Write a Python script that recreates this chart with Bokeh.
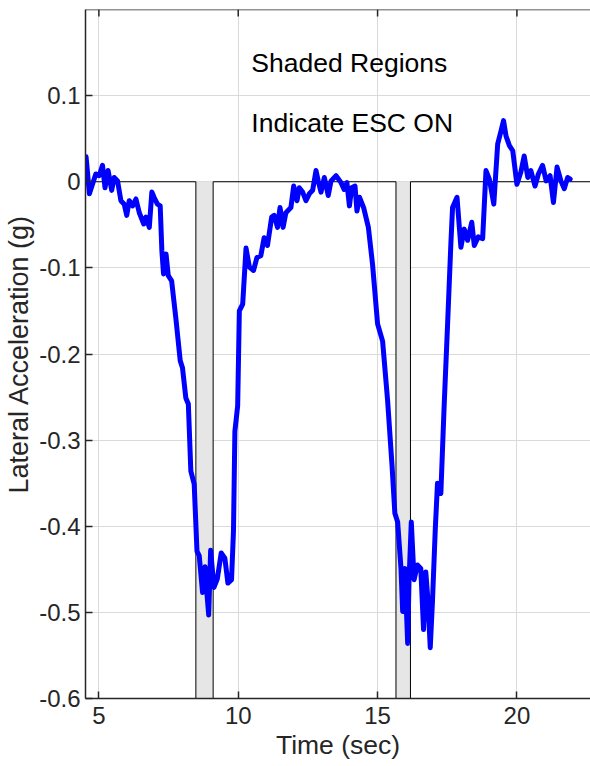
from bokeh.plotting import figure
from bokeh.models import Range1d, FixedTicker, ColumnDataSource, Span
from bokeh.core.properties import value
from bokeh.embed import file_html
from bokeh.resources import INLINE

# ---------------- data ----------------
time_s = [4.54, 4.66, 4.89, 5.01, 5.13, 5.22, 5.33, 5.46, 5.55, 5.67, 5.79, 5.91, 6.00, 6.09,
          6.21, 6.33, 6.45, 6.61, 6.69, 6.81, 6.90, 6.98, 7.10, 7.20, 7.26, 7.32, 7.41, 7.49,
          7.61, 7.76, 7.92, 8.00, 8.12, 8.21, 8.30, 8.42, 8.52, 8.60, 8.72, 8.81, 8.88, 8.94,
          9.01, 9.13, 9.25, 9.39, 9.52, 9.63, 9.76, 9.83, 9.88, 9.98, 10.04, 10.16, 10.28,
          10.40, 10.55, 10.67, 10.81, 10.93, 11.05, 11.20, 11.29, 11.41, 11.50, 11.61, 11.71,
          11.89, 11.99, 12.11, 12.19, 12.31, 12.43, 12.55, 12.67, 12.79, 12.87, 12.97, 13.09,
          13.23, 13.33, 13.51, 13.69, 13.80, 13.90, 13.99, 14.07, 14.19, 14.26, 14.35, 14.50,
          14.67, 14.82, 15.00, 15.18, 15.36, 15.52, 15.62, 15.72, 15.84, 15.90, 15.98, 16.08,
          16.13, 16.21, 16.31, 16.43, 16.55, 16.65, 16.73, 16.81, 16.89, 16.97, 17.07, 17.15,
          17.27, 17.39, 17.51, 17.63, 17.69, 17.85, 17.99, 18.11, 18.23, 18.38, 18.47, 18.61,
          18.77, 18.89, 19.01, 19.17, 19.31, 19.43, 19.52, 19.61, 19.73, 19.85, 20.00, 20.14,
          20.26, 20.39, 20.50, 20.65, 20.77, 20.92, 21.05, 21.19, 21.31, 21.44, 21.58, 21.70,
          21.82, 21.91]
lat_acc_g = [0.029, -0.014, 0.009, 0.007, 0.019, -0.007, 0.013, -0.010, 0.005, 0.001, -0.022,
             -0.026, -0.039, -0.022, -0.028, -0.020, -0.036, -0.049, -0.041, -0.053, -0.012,
             -0.018, -0.026, -0.028, -0.080, -0.107, -0.084, -0.109, -0.115, -0.158, -0.208,
             -0.216, -0.251, -0.258, -0.336, -0.351, -0.429, -0.434, -0.477, -0.447, -0.479,
             -0.503, -0.428, -0.471, -0.461, -0.431, -0.437, -0.466, -0.462, -0.405, -0.290,
             -0.260, -0.150, -0.142, -0.077, -0.099, -0.103, -0.088, -0.086, -0.065, -0.074,
             -0.041, -0.039, -0.053, -0.030, -0.053, -0.036, -0.030, -0.005, -0.022, -0.007,
             -0.012, -0.022, -0.014, -0.010, 0.013, 0.001, -0.012, 0.005, -0.016, 0.001, 0.007,
             -0.001, -0.009, -0.001, -0.028, -0.007, -0.005, -0.034, -0.018, -0.030, -0.053,
             -0.096, -0.165, -0.185, -0.254, -0.330, -0.385, -0.395, -0.449, -0.499, -0.449,
             -0.536, -0.462, -0.395, -0.462, -0.445, -0.449, -0.520, -0.453, -0.487, -0.541,
             -0.487, -0.404, -0.350, -0.362, -0.259, -0.167, -0.072, -0.030, -0.018, -0.076,
             -0.055, -0.068, -0.047, -0.074, -0.064, -0.066, 0.013, 0.003, -0.026, 0.044, 0.059,
             0.071, 0.053, 0.042, 0.036, -0.003, 0.011, 0.030, 0.005, 0.013, -0.005, 0.009,
             0.019, 0.001, 0.007, -0.024, 0.017, 0.001, -0.008, 0.005, 0.003]

esc_on_start = [8.48, 15.66]
esc_on_end = [9.10, 16.18]
esc_off_level = 0.0
esc_on_level = -0.6
esc_trace_start = 4.52
esc_trace_end = 23.0

x_ticks = [5, 10, 15, 20]
x_tick_labels = ["5", "10", "15", "20"]
y_ticks = [-0.6, -0.5, -0.4, -0.3, -0.2, -0.1, 0.0, 0.1]
y_tick_labels = ["-0.6", "-0.5", "-0.4", "-0.3", "-0.2", "-0.1", "0", "0.1"]

note_text = ["Shaded Regions", "Indicate ESC ON"]
note_x = [10.47, 10.47]
note_y = [0.138, 0.068]

x_label = "Time (sec)"
y_label = "Lateral Acceleration (g)"

FONT = "Liberation Sans"
AX = "#262626"

X0, X1 = 4.52, 22.64
Y0, Y1 = -0.6, 0.2

# ---------------- figure ----------------
p = figure(width=590, height=766,
           x_range=Range1d(X0, X1), y_range=Range1d(Y0, Y1),
           output_backend="svg", toolbar_location=None,
           min_border_left=85, min_border_right=0, min_border_top=9, min_border_bottom=68,
           outline_line_color=None, background_fill_color="white", border_fill_color="white")

# ESC shading
p.quad(left=esc_on_start, right=esc_on_end, bottom=esc_on_level, top=esc_off_level,
       fill_color="#E6E6E6", line_color=None)

# ESC edge trace (step shape)
sx, sy = [esc_trace_start], [esc_off_level]
for a, b in zip(esc_on_start, esc_on_end):
    sx += [a, a, b, b]
    sy += [esc_off_level, esc_on_level, esc_on_level, esc_off_level]
sx.append(esc_trace_end)
sy.append(esc_off_level)
p.line(sx, sy, line_color="black", line_width=1)

# acceleration trace
src = ColumnDataSource(dict(t=time_s, a=lat_acc_g))
p.line("t", "a", source=src, line_color="#0000FF", line_width=5, line_join="round", line_cap="round")

# notes
p.text(x=note_x, y=note_y, text=note_text, text_font=value(FONT), text_font_size="26.5px",
       text_baseline="alphabetic", text_align="left", text_color="black")

# axes
for ax, ticks, labels in ((p.xaxis[0], x_ticks, x_tick_labels), (p.yaxis[0], y_ticks, y_tick_labels)):
    ax.ticker = FixedTicker(ticks=ticks)
    ax.major_label_overrides = {t: l for t, l in zip(ticks, labels)}
    ax.major_tick_in = 7
    ax.major_tick_out = 0
    ax.minor_tick_line_color = None
    ax.axis_line_color = AX
    ax.axis_line_width = 1.5
    ax.major_tick_line_color = AX
    ax.major_tick_line_width = 1.5
    ax.major_label_text_font = FONT
    ax.major_label_text_font_size = "24px"
    ax.major_label_text_color = AX
    ax.axis_label_text_font = FONT
    ax.axis_label_text_font_style = "normal"
    ax.axis_label_text_color = AX

p.xaxis.axis_label = x_label
p.yaxis.axis_label = y_label
p.xaxis.axis_label_text_font_size = "26.5px"
p.yaxis.axis_label_text_font_size = "27px"
p.xaxis.major_label_standoff = 8
p.xaxis.axis_label_standoff = 3
p.yaxis.major_label_standoff = 5
p.yaxis.axis_label_standoff = 2

# top border with inward ticks (box)
p.add_layout(Span(location=Y1, dimension="width", line_color=AX, line_width=1.5))
p.segment(x0=x_ticks, y0=[Y1] * len(x_ticks), x1=x_ticks,
          y1=[Y1 - 7 / 861.25] * len(x_ticks), line_color=AX, line_width=1.5)

p.xgrid.ticker = FixedTicker(ticks=x_ticks)
p.ygrid.ticker = FixedTicker(ticks=y_ticks)
p.grid.grid_line_color = "#DADADA"
p.grid.grid_line_width = 1

open("out.html", "w").write(file_html(p, INLINE))
